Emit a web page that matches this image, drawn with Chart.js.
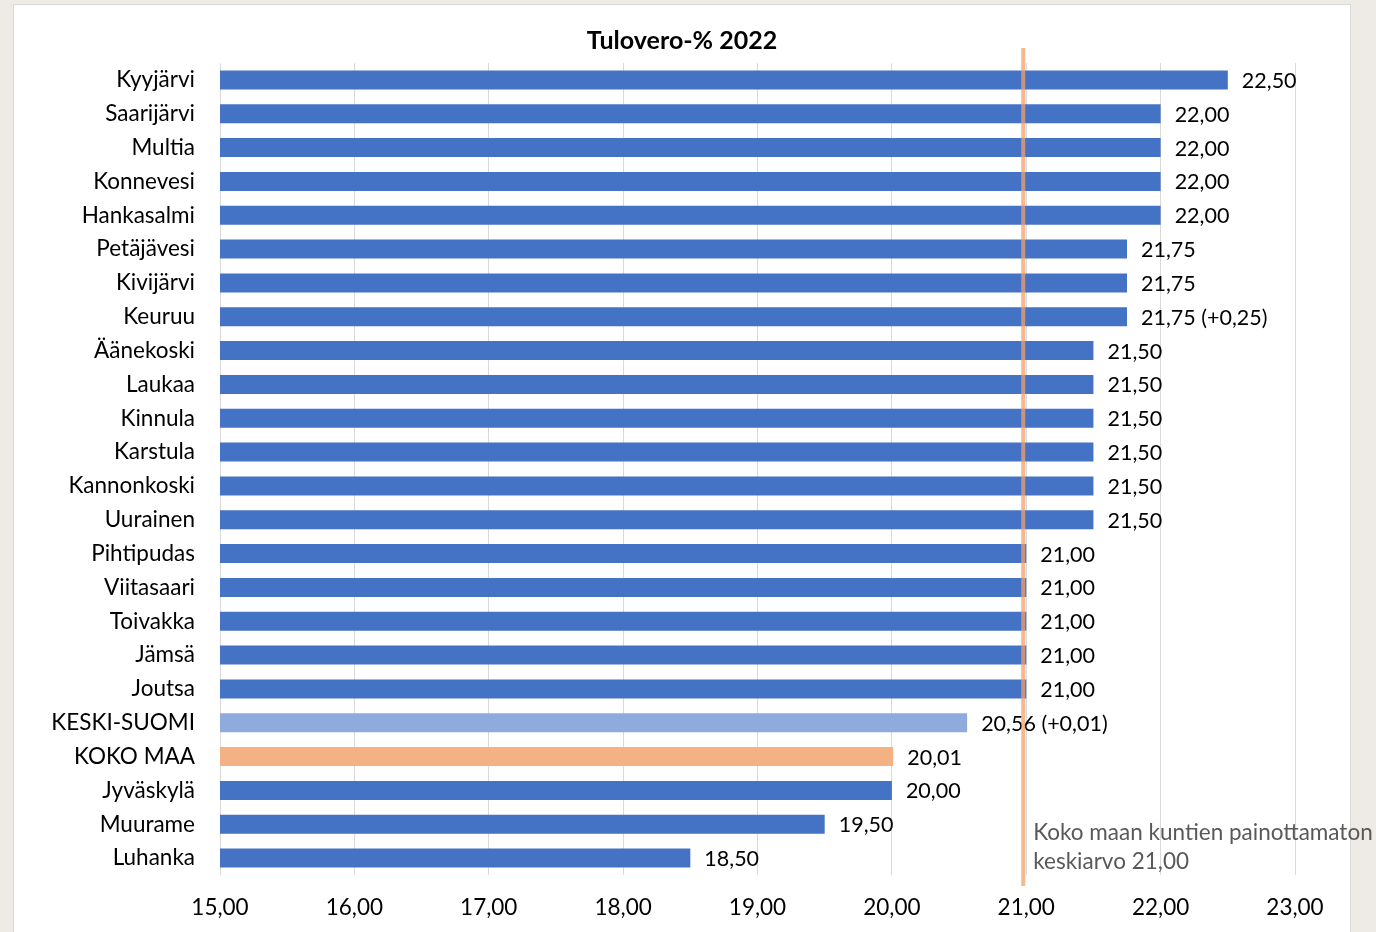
<!DOCTYPE html>
<html>
<head>
<meta charset="utf-8">
<script src="https://cdn.jsdelivr.net/npm/chart.js@4.4.0/dist/chart.umd.min.js"></script>
<style>
  html, body { margin: 0; padding: 0; background: #EEEBE6; }
  #wrap { position: absolute; left: 0; top: 0; width: 1376px; height: 932px; }
</style>
</head>
<body>
<div id="wrap"><canvas id="c" width="1376" height="932"></canvas></div>
<script>
const categories = ["Kyyjärvi","Saarijärvi","Multia","Konnevesi","Hankasalmi","Petäjävesi","Kivijärvi","Keuruu","Äänekoski","Laukaa","Kinnula","Karstula","Kannonkoski","Uurainen","Pihtipudas","Viitasaari","Toivakka","Jämsä","Joutsa","KESKI-SUOMI","KOKO MAA","Jyväskylä","Muurame","Luhanka"];
const taxRates = [22.50,22.00,22.00,22.00,22.00,21.75,21.75,21.75,21.50,21.50,21.50,21.50,21.50,21.50,21.00,21.00,21.00,21.00,21.00,20.56,20.01,20.00,19.50,18.50];
const changeNotes = ["","","","","","",""," (+0,25)","","","","","","","","","","","",
  " (+0,01)","","","",""];
const xTicks = [15,16,17,18,19,20,21,22,23];
const averageValue = 21.00;
const averageText = ["Koko maan kuntien painottamaton", "keskiarvo 21,00"];
const titleText = "Tulovero-% 2022";

const FONT = "Lato, 'Open Sans', sans-serif";
const fmt = v => v.toFixed(2).replace('.', ',');
const barColors = categories.map(c => c === "KESKI-SUOMI" ? "#8FAADC" : (c === "KOKO MAA" ? "#F4B183" : "#4472C4"));

const PANEL = { x: 13, y: 4, w: 1338, h: 940 };

const panelPlugin = {
  id: 'panel',
  beforeDraw(chart) {
    const ctx = chart.ctx;
    ctx.save();
    ctx.fillStyle = '#EEEBE6';
    ctx.fillRect(0, 0, chart.width, chart.height);
    ctx.fillStyle = '#FFFFFF';
    ctx.fillRect(PANEL.x, PANEL.y, PANEL.w, PANEL.h);
    ctx.strokeStyle = '#D9D9D9';
    ctx.lineWidth = 1;
    ctx.strokeRect(PANEL.x + 0.5, PANEL.y + 0.5, PANEL.w - 1, PANEL.h);
    // title centred on the panel
    ctx.font = "bold 25px " + FONT;
    ctx.fillStyle = '#000000';
    ctx.textAlign = 'center';
    ctx.textBaseline = 'middle';
    ctx.fillText(titleText, PANEL.x + PANEL.w / 2, 41);
    ctx.restore();
  }
};

const labelPlugin = {
  id: 'valueLabels',
  afterDatasetsDraw(chart) {
    const ctx = chart.ctx;
    const meta = chart.getDatasetMeta(0);
    ctx.save();
    ctx.font = "21.5px " + FONT;
    ctx.fillStyle = '#000000';
    ctx.textAlign = 'left';
    ctx.textBaseline = 'middle';
    meta.data.forEach((bar, i) => {
      ctx.fillText(fmt(taxRates[i]) + changeNotes[i], bar.x + 14, bar.y + 1);
    });
    // average line
    const xs = chart.scales.x;
    const ca = chart.chartArea;
    const px = xs.getPixelForValue(averageValue) - 3;
    ctx.fillStyle = 'rgba(240,160,110,0.75)';
    ctx.fillRect(px - 2, ca.top - 15, 4, ca.bottom - ca.top + 26);
    ctx.font = "22.5px " + FONT;
    ctx.fillStyle = '#595959';
    ctx.fillText(averageText[0], px + 10, ca.bottom - 42);
    ctx.fillText(averageText[1], px + 10, ca.bottom - 13);
    ctx.restore();
  }
};

new Chart(document.getElementById('c'), {
  type: 'bar',
  data: {
    labels: categories,
    datasets: [{
      data: taxRates,
      backgroundColor: barColors,
      borderWidth: 0,
      barPercentage: 0.56,
      categoryPercentage: 1.0
    }]
  },
  options: {
    indexAxis: 'y',
    responsive: false,
    animation: false,
    layout: { padding: { left: 0, right: 81, top: 63, bottom: 0 } },
    plugins: {
      legend: { display: false },
      tooltip: { enabled: false },
      title: { display: false }
    },
    scales: {
      x: {
        min: 15, max: 23,
        afterBuildTicks(scale) { scale.ticks = xTicks.map(v => ({ value: v })); },
        afterFit(scale) { scale.height = 57; },
        grid: { color: '#D9D9D9', lineWidth: 1, drawTicks: false },
        border: { display: false },
        ticks: {
          padding: 19,
          color: '#000000',
          font: { family: FONT, size: 22.5 },
          callback: v => fmt(v)
        }
      },
      y: {
        afterFit(scale) { scale.width = 220; },
        grid: { display: false, drawTicks: false },
        border: { display: false },
        ticks: {
          padding: 25,
          color: '#000000',
          font: { family: FONT, size: 22.5 }
        }
      }
    }
  },
  plugins: [panelPlugin, labelPlugin]
});
</script>
</body>
</html>
